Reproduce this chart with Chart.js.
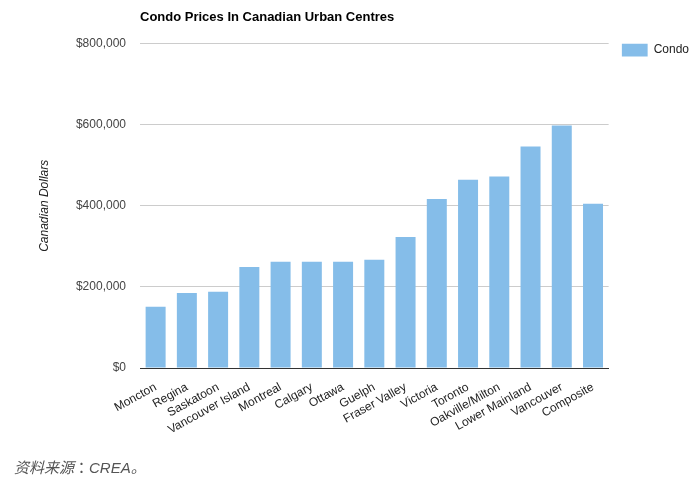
<!DOCTYPE html>
<html lang="zh">
<head>
    <meta charset="utf-8">
    <title>Condo Prices</title>
    <script src="https://cdn.jsdelivr.net/npm/chart.js@4.4.0/dist/chart.umd.min.js"></script>
    <style>
        body { margin: 0; background: #fff; }
        #wrap { position: relative; width: 694px; height: 477px; }
        #source {
            position: absolute; left: 14px; top: 456px;
            font: italic 15px "Liberation Sans", "Noto Sans CJK SC", sans-serif;
            color: #555;
        }
        #source .deux-points { font-family: "Noto Sans CJK TC", "Noto Sans CJK JP", sans-serif; font-style: normal; }
    </style>
</head>
<body>
<div id="wrap">
    <canvas id="monGraphique" width="694" height="477"></canvas>
    <div id="source">资料来源<span class="deux-points" lang="zh-TW">：</span>CREA。</div>
</div>

<script>
    // donnees
    var villes = ['Moncton', 'Regina', 'Saskatoon', 'Vancouver Island', 'Montreal', 'Calgary', 'Ottawa',
        'Guelph', 'Fraser Valley', 'Victoria', 'Toronto', 'Oakville/Milton', 'Lower Mainland', 'Vancouver', 'Composite'];
    var prixCondo = [151000, 185000, 188000, 249000, 262000, 262000, 262000,
        267000, 323000, 417000, 464000, 472000, 546000, 598000, 405000];
    var graduationsY = [0, 200000, 400000, 600000, 800000];

    function dollars(v) {
        return '$' + v.toLocaleString('en-US');
    }

    // decale la legende vers la droite comme sur l'original
    var decaleLegende = {
        id: 'decaleLegende',
        afterLayout: function (chart) {
            chart.legend.left += 13;
            chart.legend.right += 13;
        }
    };

    var ctx = document.getElementById('monGraphique').getContext('2d');
    var chart = new Chart(ctx, {
        type: 'bar',
        data: {
            labels: villes,
            datasets: [{
                label: 'Condo',
                backgroundColor: '#85bde9',
                borderWidth: 0,
                data: prixCondo,
                categoryPercentage: 1,
                barPercentage: 0.64
            }]
        },
        plugins: [decaleLegende],
        options: {
            responsive: false,
            animation: false,
            layout: { padding: { left: 0, right: 8, top: 0, bottom: 0 } },
            plugins: {
                title: {
                    display: true,
                    text: 'Condo Prices In Canadian Urban Centres',
                    align: 'start',
                    fullSize: false,
                    color: '#000',
                    font: { family: 'Liberation Sans, Arial', size: 13, weight: 'bold' },
                    padding: { top: 10, bottom: 18 }
                },
                legend: {
                    position: 'right',
                    align: 'start',
                    fullSize: false,
                    labels: {
                        boxWidth: 26,
                        boxHeight: 13,
                        padding: 0,
                        color: '#222',
                        font: { family: 'Liberation Sans, Arial', size: 12 }
                    }
                },
                tooltip: { enabled: false }
            },
            scales: {
                x: {
                    grid: { display: false, drawTicks: false },
                    border: { display: true, color: '#333', width: 1 },
                    ticks: {
                        autoSkip: false,
                        minRotation: 29,
                        maxRotation: 29,
                        padding: 12,
                        color: '#222',
                        font: { family: 'Liberation Sans, Arial', size: 12 }
                    },
                    afterFit: function (scale) { scale.height = 109; }
                },
                y: {
                    min: 0,
                    max: 800000,
                    afterBuildTicks: function (scale) {
                        scale.ticks = graduationsY.map(function (v) { return { value: v }; });
                    },
                    grid: {
                        drawTicks: false,
                        color: function (c) { return c.tick && c.tick.value === 0 ? 'rgba(0,0,0,0)' : '#ccc'; }
                    },
                    border: { display: false },
                    ticks: {
                        padding: 14,
                        color: '#444',
                        font: { family: 'Liberation Sans, Arial', size: 12 },
                        callback: function (v) { return dollars(v); }
                    },
                    title: {
                        display: true,
                        text: 'Canadian Dollars',
                        color: '#222',
                        font: { family: 'Liberation Sans, Arial', size: 12, style: 'italic' },
                        padding: { top: 37, bottom: 0 }
                    },
                    afterFit: function (scale) { scale.width = 140; }
                }
            }
        }
    });
    console.log(chart.chartArea);
</script>
</body>
</html>
